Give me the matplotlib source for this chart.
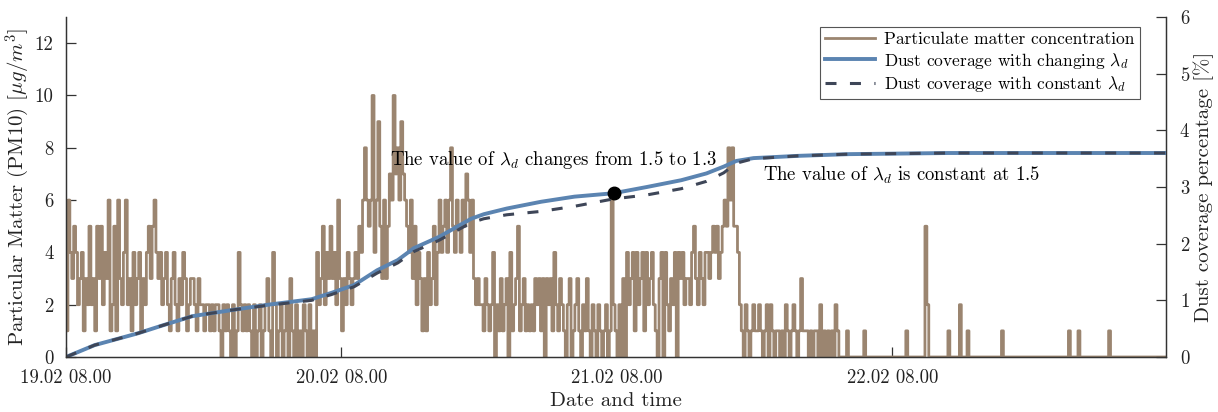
import matplotlib.pyplot as plt
import matplotlib.dates as mdates
import pandas as pd

plt.rcParams['font.family'] = 'serif'
plt.rcParams['font.serif'] = ['cmr10']
plt.rcParams['mathtext.fontset'] = 'cm'
plt.rcParams['axes.unicode_minus'] = False

start = pd.Timestamp('2024-02-19 08:00')

# PM10 readings every 10 minutes, one list per day starting at 08.00
pm_day1 = [1, 6, 4, 3, 5, 4, 2, 3, 4, 1, 3, 2,
           5, 2, 3, 1, 5, 3, 5, 2, 4, 3, 6, 1,
           2, 5, 1, 6, 3, 2, 4, 6, 2, 3, 1, 4,
           2, 3, 4, 1, 3, 2, 4, 5, 3, 5, 6, 4,
           3, 4, 2, 3, 4, 2, 1, 3, 4, 2, 1, 3,
           2, 4, 3, 1, 2, 3, 3, 2, 1, 3, 2, 2,
           1, 2, 2, 1, 2, 1, 2, 2, 1, 0, 2, 1,
           2, 1, 0, 2, 0, 1, 4, 2, 1, 2, 1, 2,
           1, 0, 2, 0, 1, 2, 0, 1, 2, 3, 1, 0,
           4, 2, 0, 1, 2, 0, 1, 2, 0, 3, 1, 0,
           2, 0, 1, 0, 2, 1, 0, 2, 0, 1, 0, 4,
           2, 3, 5, 2, 4, 3, 5, 3, 4, 2, 6, 3]
pm_day2 = [1, 3, 2, 4, 3, 2, 3, 4, 3,
           5, 4, 6, 8, 6, 5, 6, 10,
           4, 6, 9, 5, 3, 6, 3, 5, 7, 6,
           10, 7, 8, 6, 9, 7, 6, 5,
           4, 6, 3, 5, 2, 4, 3, 1,
           3, 1, 4, 2, 3, 5, 2, 4,
           6, 4, 5, 6, 4, 6, 8, 5, 4, 6, 5, 4, 6, 5, 7, 6,
           4, 6, 3, 2, 3, 2,
           2, 1, 3, 2, 1, 2, 4, 0, 2, 1, 3, 1,
           2, 3, 0, 4, 1, 2, 3, 5, 1, 2, 3, 1,
           2, 1, 2, 1, 3, 2, 3, 1, 3, 0, 3, 2,
           3, 1, 4, 2, 1, 3, 2, 1, 0, 2, 3, 0,
           1, 2, 3, 1, 0, 2, 1, 3, 1, 0, 2, 1,
           0, 2, 1, 0, 1, 2, 0, 1, 6, 2, 1]
pm_day3 = [0, 2, 0, 3, 0,
           4, 2, 3, 4, 1, 4, 2, 3, 4, 1, 4, 2,
           3, 4, 2, 1, 0, 3, 4, 0, 4, 2, 1, 3,
           2, 4, 0, 4, 3, 4, 2, 3,
           3, 2, 4, 5, 3, 2, 4, 3, 2, 4, 4, 3,
           4, 5, 4, 5, 3, 4, 5,
           6, 5, 8, 6, 8, 5,
           5, 4, 2,
           1, 0, 2, 1, 0, 1, 2, 1, 1,
           2, 1, 0, 1, 2, 0, 2, 1, 0, 1, 1, 0,
           1, 0, 2, 1, 0, 1, 2, 1, 0, 1, 3, 1,
           1, 1, 0, 1, 0, 1, 1, 0, 2, 0, 1, 0,
           1, 0, 1, 0, 2, 1,
           0, 0, 0, 0, 1, 0, 0, 0, 0, 0, 0, 0, 0, 1,
           0, 0, 0, 0, 0, 0, 0, 0, 0, 0, 0, 0, 0, 0]
pm_day4 = [0, 0, 0, 0, 0, 0, 0, 1, 0, 0, 0, 0,
           0, 0, 0, 0, 0, 5, 2, 0, 0, 0, 0, 0,
           0, 0, 0, 0, 0, 1, 0, 0, 0, 0, 0, 2,
           0, 0, 0, 1, 0, 0, 0, 0, 0, 0, 0, 0,
           0, 0, 0, 0, 0, 0, 0, 0, 0, 1, 0, 0,
           0, 0, 0, 0, 0, 0, 0, 0, 0, 0, 0, 0,
           0, 0, 0, 0, 0, 0, 0, 0, 0, 0, 0, 0,
           0, 0, 0, 0, 0, 0, 0, 0, 1, 0, 0, 0,
           0, 1, 0, 0, 0, 0, 0, 0, 0, 0, 0, 0,
           0, 0, 0, 0, 0, 1, 0, 0, 0, 0, 0, 0,
           0, 0, 0, 0, 0, 0, 0, 0, 0, 0, 0, 0,
           0, 0, 0, 0, 0, 0, 0, 0, 0, 0, 0, 0]

# dust coverage [%], read at these hours after the start
cov_hours = [0.0, 2.5, 6.3, 8.3, 11.0, 14.5, 17.5, 21.4, 23.1, 25.1, 27.1,
             28.9, 30.3, 32.5, 35.3, 36.4, 38.4, 41.4, 44.3, 47.7, 50.6,
             53.6, 55.8, 57.3, 58.4, 59.9, 63.8, 68.2, 76.9, 95.83]
cov_changing = [0.0, 0.21, 0.42, 0.55, 0.72, 0.83, 0.92, 1.02, 1.13, 1.27, 1.53,
                1.71, 1.92, 2.12, 2.44, 2.52, 2.62, 2.74, 2.83, 2.89, 3.00,
                3.12, 3.24, 3.36, 3.46, 3.51, 3.55, 3.58, 3.60, 3.60]
cov_constant = [0.0, 0.21, 0.42, 0.55, 0.72, 0.83, 0.91, 1.00, 1.10, 1.24, 1.48,
                1.66, 1.86, 2.06, 2.37, 2.44, 2.51, 2.57, 2.66, 2.79, 2.86,
                2.97, 3.10, 3.25, 3.42, 3.50, 3.55, 3.58, 3.60, 3.60]

change_hour = 47.7
change_value = 2.89

pm = pm_day1 + pm_day2 + pm_day3 + pm_day4
pm_time = pd.date_range(start, periods=len(pm), freq='10min')
cov_time = start + pd.to_timedelta(cov_hours, unit='h')
change_time = start + pd.Timedelta(hours=change_hour)

c_pm = '#9b8570'
c_blue = '#5b84b1'
c_dash = '#3e4658'
c_axis = '#333333'
c_text = '#222222'

fig = plt.figure(figsize=(12.18, 4.12), dpi=100)
ax = fig.add_axes([0.0542, 0.1335, 0.9031, 0.8252])
ax2 = ax.twinx()

l1, = ax.plot(pm_time, pm, color=c_pm, lw=2.0, drawstyle='steps-post',
              label='Particulate matter concentration')
l2, = ax2.plot(cov_time, cov_changing, color=c_blue, lw=2.8,
               label=r'Dust coverage with changing $\lambda_d$')
l3, = ax2.plot(cov_time, cov_constant, color=c_dash, lw=2.2, dashes=(3.6, 4.4),
               label=r'Dust coverage with constant $\lambda_d$')
ax2.plot(change_time, change_value, 'o', color='black', ms=9)

ax.set_xlim(pm_time[0], pm_time[-1])
ax.set_ylim(0, 13)
ax.set_yticks(range(0, 13, 2))
ax2.set_ylim(0, 6)
ax2.set_yticks(range(0, 7))

ax.xaxis.set_major_locator(mdates.HourLocator(byhour=[8]))
ax.xaxis.set_major_formatter(mdates.DateFormatter('%d.%m %H.%M'))

for a in (ax, ax2):
    a.spines['top'].set_visible(False)
    for s in a.spines.values():
        s.set_color(c_axis)
        s.set_linewidth(0.9)
    a.tick_params(direction='in', length=7, width=0.9, color=c_axis,
                  labelsize=13.5, labelcolor=c_text)
ax.tick_params(axis='y', pad=9)
ax2.tick_params(axis='y', pad=10)
ax.tick_params(axis='x', pad=9)

ax.set_xlabel('Date and time', fontsize=15, color=c_text, labelpad=3)
ax.set_ylabel(r'Particular Matter (PM10) [$\mu g/m^3$]', fontsize=15,
              color=c_text, labelpad=2)
ax2.set_ylabel('Dust coverage percentage [%]', fontsize=15, color=c_text,
               labelpad=3)

ax.text(0.2945, 0.579, r'The value of $\lambda_d$ changes from 1.5 to 1.3',
        transform=ax.transAxes, fontsize=13.5, va='center', ha='left')
ax.text(0.6336, 0.535, r'The value of $\lambda_d$ is constant at 1.5',
        transform=ax.transAxes, fontsize=13.5, va='center', ha='left')

leg = ax2.legend(handles=[l1, l2, l3], loc='upper right',
                 bbox_to_anchor=(0.976, 0.972), borderaxespad=0,
                 fancybox=False, edgecolor='#555555', framealpha=1,
                 fontsize=12.5, handlelength=2.9, labelspacing=0.2,
                 borderpad=0.3, handletextpad=0.5)
leg.get_frame().set_linewidth(0.8)

fig.savefig('out.png', dpi=100)
